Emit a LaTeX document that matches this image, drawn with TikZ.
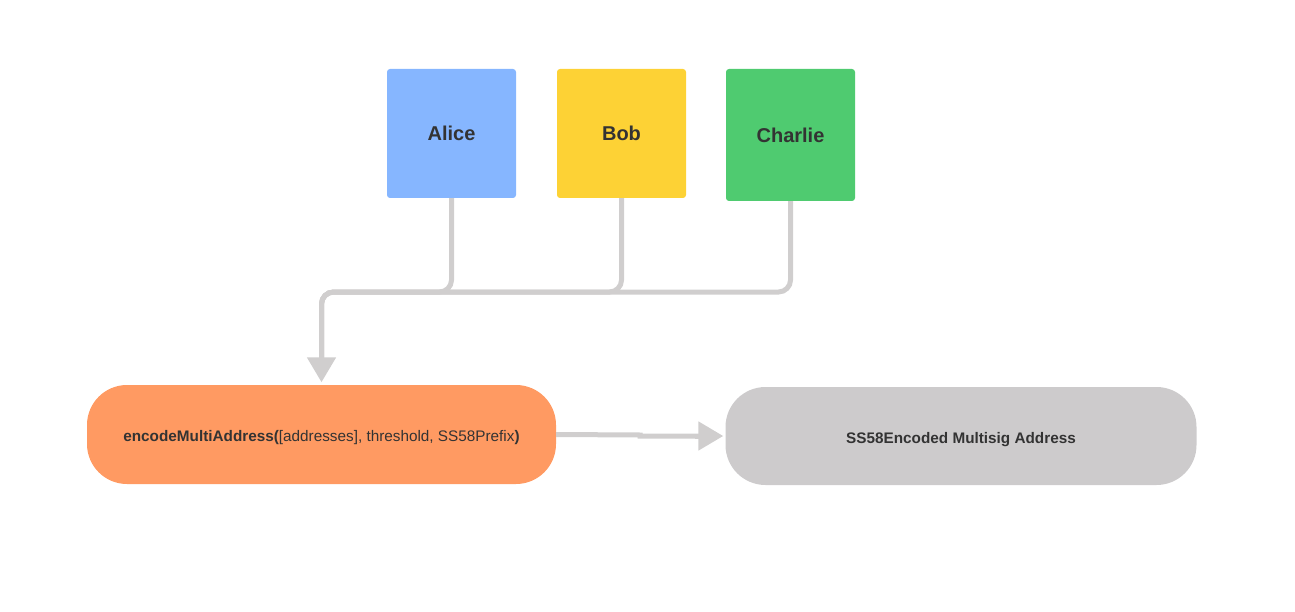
\documentclass[tikz,border=0pt]{standalone}
\usepackage{fontspec}
\setmainfont{Liberation Sans}
\usetikzlibrary{arrows.meta}
\definecolor{aliceblue}{HTML}{86B6FF}
\definecolor{bobyellow}{HTML}{FDD235}
\definecolor{charliegreen}{HTML}{4FCB70}
\definecolor{fnorange}{HTML}{FF9A62}
\definecolor{resgray}{HTML}{CDCBCC}
\definecolor{linegray}{HTML}{D0CECE}
\definecolor{txt}{HTML}{333333}
\begin{document}
\begin{tikzpicture}[x=1pt,y=-1pt,
  person/.style={rounded corners=3pt, minimum width=129pt, minimum height=129pt,
    inner sep=0pt, font=\fontsize{20}{24}\selectfont\bfseries, text=txt},
  pill/.style={rounded corners=40pt, inner sep=0pt, minimum height=99pt,
    text height=14pt, text depth=0pt,
    font=\fontsize{15.3}{18}\selectfont, text=txt},
  conn/.style={draw=linegray, line width=5pt, rounded corners=12pt},
  tip/.style={-{Triangle[width=28pt,length=25pt]}, color=linegray}
]
\useasboundingbox (0,0) rectangle (1295,612);
\node[person, fill=aliceblue] (alice) at (451.5,133.5) {Alice};
\node[person, fill=bobyellow] (bob) at (621.5,133.5) {Bob};
\node[person, fill=charliegreen, minimum height=132pt] (charlie) at (790.5,135) {Charlie};
\node[pill, fill=fnorange, minimum width=469pt] (fn) at (321.5,434.5)
  {\textbf{encodeMultiAddress(}[addresses], threshold, SS58Prefix\textbf{)}};
\node[pill, fill=resgray, minimum width=471pt, minimum height=98pt] (res) at (961,436)
  {\bfseries SS58Encoded Multisig Address};
\coordinate (j) at (fn.north |- 0,292);
\draw[conn] (charlie.south) |- (j) -- ([yshift=26pt]fn.north);
\draw[conn] (bob.south) |- (j) -- ([yshift=26pt]fn.north);
\draw[conn] (alice.south) |- (j) -- ([yshift=26pt]fn.north);
\draw[tip, line width=5pt, shorten >=2.5pt] ([yshift=30pt]fn.north) -- (fn.north);
\draw[draw=linegray, line width=5pt] (fn.east) -- (640,435) -- (640,436) -- (700,436);
\draw[tip, line width=5pt, shorten >=2pt] (695,436) -- (res.west);
\end{tikzpicture}
\end{document}
